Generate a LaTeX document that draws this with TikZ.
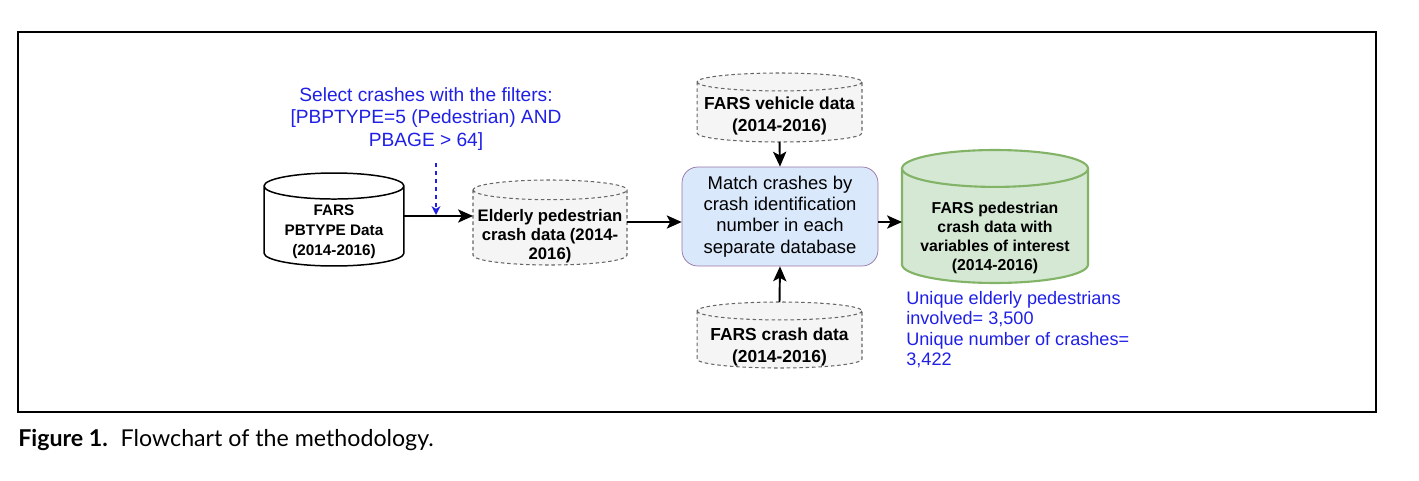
\documentclass[tikz,border=0pt]{standalone}
\usepackage{fontspec}
\setmainfont{Liberation Sans}
\newfontfamily\capfont{Lato}
\usetikzlibrary{calc,positioning,arrows.meta}
\tikzset{>={Stealth[length=8.5pt,width=7.5pt,inset=2pt]}}
\definecolor{dbgray}{HTML}{F5F5F5}
\definecolor{dbline}{HTML}{666666}
\definecolor{matchfill}{HTML}{DAE8FC}
\definecolor{matchline}{HTML}{9673A6}
\definecolor{outfill}{HTML}{D5E8D4}
\definecolor{outline}{HTML}{82B366}
\definecolor{notecol}{HTML}{1F1FE6}
\newcommand{\fsz}[2]{\fontsize{#1}{#2}\selectfont}
% cylinder drawn round the box of a named node: #1 node, #2 half height of the ends, #3 style
\newcommand{\dbcyl}[3]{%
  \path[#3] let \p1=(#1.north west), \p2=(#1.south east), \n1={(\x2-\x1)/2} in
    (\x1,{\y1-#2}) -- (\x1,{\y2+#2})
      arc[start angle=180,end angle=360,x radius=\n1,y radius=#2]
      -- (\x2,{\y1-#2})
      arc[start angle=0,end angle=180,x radius=\n1,y radius=#2] -- cycle
    (\x1,{\y1-#2}) arc[start angle=180,end angle=360,x radius=\n1,y radius=#2];
}
\tikzset{
  dbbox/.style={inner sep=0pt,outer sep=0pt},
  db/.style={draw,fill=white,line width=0.85pt},
  dbdash/.style={draw=dbline,fill=dbgray,line width=0.6pt,dash pattern=on 2pt off 1.6pt},
  dbtext/.style={align=center,font=\bfseries,inner sep=0pt},
  flow/.style={->,line width=1.1pt},
  note/.style={text=notecol,inner sep=0pt}
}

\begin{document}
\begin{tikzpicture}[x=0.02cm,y=-0.02cm]
      \useasboundingbox (0,0) rectangle (1419,480);
      \draw[line width=1.1pt] (18,32) rectangle (1376,412);
      \node[dbbox,minimum width=2.8cm,minimum height=1.86cm] (pbtype) at (334,219.5) {};
      \node[dbbox,minimum width=3.08cm,minimum height=1.7cm] (elderly) at (550,222.5) {};
      \node[dbbox,minimum width=3.3cm,minimum height=1.38cm] (vehicle) at (779.5,107.5) {};
      \node[dbbox,minimum width=3.3cm,minimum height=1.32cm] (crash) at (779.5,335) {};
      \node[dbbox,minimum width=3.72cm,minimum height=2.66cm] (result) at (995,216.5) {};
      \dbcyl{pbtype}{7.4pt}{db}
      \dbcyl{elderly}{5.6pt}{dbdash}
      \dbcyl{vehicle}{5.1pt}{dbdash}
      \dbcyl{crash}{5.1pt}{dbdash}
      \dbcyl{result}{10.5pt}{draw=outline,fill=outfill,line width=1.2pt}
      \node[dbtext,font=\bfseries\fsz{8.7}{11.3}] (pbtypetxt) at (334,232) {FARS\\PBTYPE Data\\(2014-2016)};
      \node[dbtext,font=\bfseries\fsz{9.5}{10.8}] (elderlytxt) at (550,236) {Elderly pedestrian\\crash data (2014-\\2016)};
      \node[dbtext,font=\bfseries\fsz{9.9}{12.3}] (vehicletxt) at (779.5,116) {FARS vehicle data\\(2014-2016)};
      \node[dbtext,font=\bfseries\fsz{9.9}{12.3}] (crashtxt) at (779.5,347) {FARS crash data\\(2014-2016)};
      \node[dbtext,font=\bfseries\fsz{9}{10.9}] (resulttxt) at (995,238) {FARS pedestrian\\crash data with\\variables of interest\\(2014-2016)};
      \node[draw=matchline,fill=matchfill,rounded corners=9pt,align=center,minimum width=3.92cm,minimum height=1.98cm,
        font=\fsz{10.5}{12.1}] (match) at (780,216.5) {Match crashes by\\crash identification\\number in each\\separate database};
      \node[note,align=center,font=\fsz{10.9}{12.6}] (filter) at (426,119) {Select crashes with the filters:\\{}[PBPTYPE=5 (Pedestrian) AND\\PBAGE > 64]};
      \node[note,align=left,anchor=north west,font=\fsz{10.3}{11.6}] (counts) at (906,291) {Unique elderly pedestrians\\involved= 3,500\\Unique number of crashes=\\3,422};
      \draw[flow] (pbtype.east |- 0,216) -- (elderly.west |- 0,216);
      \draw[flow] (elderly.east |- 0,222) -- (match.west |- 0,222);
      \draw[flow] (match.east |- 0,222) -- (result.west |- 0,222);
      \draw[flow] (vehicle.south) -- (match.north);
      \draw[flow] (crash.north) -- (match.south);
      \coordinate (drop) at (436,215);
      \draw[-{Stealth[length=5pt,width=5pt,inset=1.5pt]},dash pattern=on 2.5pt off 2pt,notecol,line width=0.8pt] (436,163) -- (drop);
      \node[anchor=west,inner sep=0pt,font=\capfont\fsz{13.2}{15}] (caption) at (18,440) {\textbf{Figure 1.}\hspace{0.55em}Flowchart of the methodology.};
\end{tikzpicture}
\end{document}
